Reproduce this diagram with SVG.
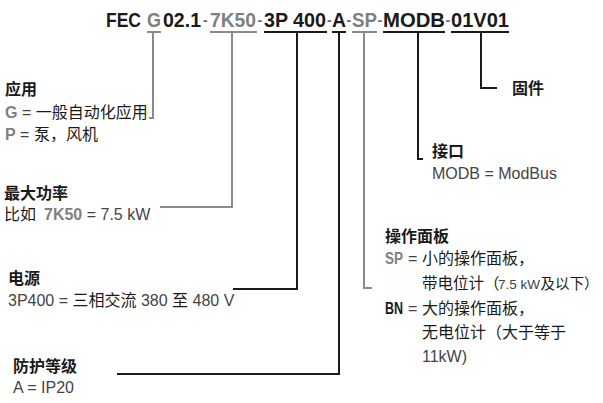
<svg xmlns="http://www.w3.org/2000/svg" width="603" height="403" viewBox="0 0 603 403">
<style>
text{font-family:"Liberation Sans","Noto Sans CJK SC",sans-serif;}
.t{font-size:20px;font-weight:bold;fill:#1a1a1a;}
.tg{fill:#7f7f7f;}
.th{font-size:14px;font-weight:bold;fill:#6a6a6a;}
.b{font-size:16px;fill:#1a1a1a;}
.h{font-weight:bold;}
.g{fill:#7f7f7f;font-weight:bold;}
.l{fill:#444;}
.ln{fill:none;stroke-width:2;}
.k{stroke:#1a1a1a;}
.gr{stroke:#8a8a8a;}
</style>
<rect width="603" height="403" fill="#fff"/>
<g id="title">
<text class="t" x="106" y="27" textLength="35" lengthAdjust="spacingAndGlyphs">FEC</text>
<text class="t tg" x="147" y="27" textLength="14" lengthAdjust="spacingAndGlyphs">G</text>
<text class="t" x="163" y="27" textLength="38" lengthAdjust="spacingAndGlyphs">02.1</text>
<text class="th" x="203" y="25.3">-</text>
<text class="t tg" x="210" y="27" textLength="46" lengthAdjust="spacingAndGlyphs">7K50</text>
<text class="th" x="257.5" y="25.3">-</text>
<text class="t" x="264" y="27" textLength="24" lengthAdjust="spacingAndGlyphs">3P</text>
<text class="t" x="293" y="27" textLength="33" lengthAdjust="spacingAndGlyphs">400</text>
<text class="th" x="327" y="25.3">-</text>
<text class="t" x="332" y="27" textLength="14" lengthAdjust="spacingAndGlyphs">A</text>
<text class="th" x="346.6" y="25.3">-</text>
<text class="t tg" x="352" y="27" textLength="25" lengthAdjust="spacingAndGlyphs">SP</text>
<text class="th" x="377.6" y="25.3">-</text>
<text class="t" x="383" y="27" textLength="62" lengthAdjust="spacingAndGlyphs">MODB</text>
<text class="th" x="445.6" y="25.3">-</text>
<text class="t" x="451" y="27" textLength="58" lengthAdjust="spacingAndGlyphs">01V01</text>
</g>
<g id="connectors">
<line class="ln gr" x1="147" y1="32" x2="161" y2="32"/>
<line class="ln gr" x1="210" y1="32" x2="257" y2="32"/>
<line class="ln k" x1="264" y1="32" x2="327" y2="32"/>
<line class="ln k" x1="332" y1="32" x2="346" y2="32"/>
<line class="ln gr" x1="352" y1="32" x2="377" y2="32"/>
<line class="ln k" x1="383" y1="32" x2="445" y2="32"/>
<line class="ln k" x1="451" y1="32" x2="509" y2="32"/>
<polyline class="ln gr" points="153,32 153,118 149,118"/>
<polyline class="ln gr" points="232,32 232,207 160,207"/>
<polyline class="ln k" points="297,32 297,289 233,289"/>
<polyline class="ln k" points="339,32 339,374 117,374"/>
<polyline class="ln gr" points="364,32 364,288 372,288"/>
<polyline class="ln k" points="418,32 418,159 423,159"/>
<polyline class="ln k" points="481,32 481,88 497,88"/>
</g>
<g id="node-application">
<text class="b h" x="5" y="95">应用</text>
<text class="b" x="5" y="118"><tspan class="g">G</tspan><tspan class="l"> = </tspan>一般自动化应用</text>
<text class="b" x="5" y="140"><tspan class="g">P</tspan><tspan class="l"> = </tspan>泵，风机</text>
</g>
<g id="node-power">
<text class="b h" x="4" y="199">最大功率</text>
<text class="b" x="4" y="220">比如<tspan class="g" x="44">7K50</tspan><tspan class="l"> = 7.5 kW</tspan></text>
</g>
<g id="node-supply">
<text class="b h" x="8" y="284">电源</text>
<text class="b" x="8" y="306"><tspan class="l">3P400 = </tspan>三相交流<tspan class="l"> 380 </tspan>至<tspan class="l"> 480 V</tspan></text>
</g>
<g id="node-protection">
<text class="b h" x="13" y="372">防护等级</text>
<text class="b l" x="13" y="393">A = IP20</text>
</g>
<g id="node-firmware">
<text class="b h" x="512" y="94">固件</text>
</g>
<g id="node-interface">
<text class="b h" x="432" y="157">接口</text>
<text class="b l" x="432" y="179">MODB = ModBus</text>
</g>
<g id="node-panel">
<text class="b h" x="385" y="242">操作面板</text>
<text class="b g" x="385" y="264" textLength="18" lengthAdjust="spacingAndGlyphs">SP</text>
<text class="b l" x="408" y="264">=</text>
<text class="b" x="422" y="264">小的操作面板，</text>
<text class="b" x="422" y="289" style="font-size:15.5px">带电位计（</text>
<text class="b l" x="498" y="289" style="font-size:13.5px">7.5 kW</text>
<text class="b" x="540.5" y="289" style="font-size:14.5px">及以下）</text>
<text class="b h" x="385" y="314" textLength="18" lengthAdjust="spacingAndGlyphs">BN</text>
<text class="b l" x="408" y="314">=</text>
<text class="b" x="422" y="314">大的操作面板，</text>
<text class="b" x="422" y="338">无电位计（大于等于</text>
<text class="b l" x="422" y="362">11kW)</text>
</g>
</svg>
